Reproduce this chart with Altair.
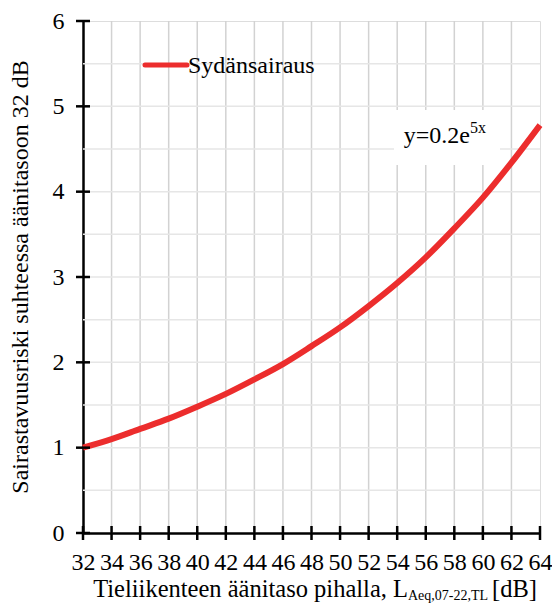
import altair as alt
import pandas as pd

# Data
x_db = [32, 34, 36, 38, 40, 42, 44, 46, 48, 50, 52, 54, 56, 58, 60, 62, 64]
risk = [1.00, 1.10, 1.22, 1.34, 1.48, 1.63, 1.80, 1.98, 2.19, 2.41, 2.66, 2.93, 3.23, 3.57, 3.93, 4.34, 4.78]
x_ticks = list(range(32, 65, 2))
y_ticks = [0, 1, 2, 3, 4, 5, 6]
x_grid = list(range(34, 64, 2))
y_grid = [0.5, 1, 1.5, 2, 2.5, 3, 3.5, 4, 4.5, 5, 5.5]

series_name = "Sydänsairaus"
y_title = "Sairastavuusriski suhteessa äänitasoon 32 dB"
x_title_main = "Tieliikenteen äänitaso pihalla, L"
x_title_sub = "Aeq,07-22,TL"
x_title_end = "[dB]"
eq_main = "y=0.2e"
eq_sup = "5x"

W, H = 457, 512
FONT = "Liberation Serif"
RED = "#ec2d2d"

df = pd.DataFrame({"x": x_db, "y": risk})
xs = alt.Scale(domain=[32, 64], nice=False, zero=False)
ys = alt.Scale(domain=[0, 6], nice=False)

xaxis = alt.Axis(values=x_ticks, ticks=False, grid=False, labelFont=FONT, labelFontSize=24,
                 labelColor="black", labelPadding=17, domainColor="black", domainWidth=2.5,
                 title=None, labelFlush=False, labelOverlap=False, format="d")
yaxis = alt.Axis(values=y_ticks, ticks=False, grid=False, labelFont=FONT, labelFontSize=24,
                 labelColor="black", labelPadding=19, domainColor="black", domainWidth=2.5,
                 title=None, format="d")

vgrid = alt.Chart(pd.DataFrame({"x": x_grid})).mark_rule(color="#d2d2d2", strokeWidth=1.5).encode(
    x=alt.X("x:Q", scale=xs, axis=xaxis))
hgrid = alt.Chart(pd.DataFrame({"y": y_grid})).mark_rule(color="#e6e6e6", strokeWidth=1.5).encode(
    y=alt.Y("y:Q", scale=ys, axis=yaxis))

box = alt.Chart(pd.DataFrame({"a": [0]})).mark_rect(color="white").encode(
    x=alt.value(311), x2=alt.value(417), y=alt.value(89), y2=alt.value(144))

curve = alt.Chart(df).mark_line(color=RED, strokeWidth=6, interpolate="monotone").encode(
    x=alt.X("x:Q", scale=xs, axis=xaxis), y=alt.Y("y:Q", scale=ys, axis=yaxis))

leg_line = alt.Chart(pd.DataFrame({"a": [0]})).mark_rule(color=RED, strokeWidth=5, strokeCap="round").encode(
    x=alt.value(62), x2=alt.value(104), y=alt.value(44))
leg_text = alt.Chart(pd.DataFrame({"t": [series_name]})).mark_text(
    font=FONT, fontSize=24, align="left", baseline="alphabetic", color="black").encode(
    x=alt.value(105), y=alt.value(52), text="t:N")

eq1 = alt.Chart(pd.DataFrame({"t": [eq_main]})).mark_text(
    font=FONT, fontSize=24, align="right", baseline="alphabetic", color="black").encode(
    x=alt.value(387), y=alt.value(122), text="t:N")
eq2 = alt.Chart(pd.DataFrame({"t": [eq_sup]})).mark_text(
    font=FONT, fontSize=16, align="left", baseline="alphabetic", color="black").encode(
    x=alt.value(387), y=alt.value(112), text="t:N")

xt1 = alt.Chart(pd.DataFrame({"t": [x_title_main]})).mark_text(
    font=FONT, fontSize=24.5, align="right", baseline="alphabetic", color="black").encode(
    x=alt.value(325), y=alt.value(576), text="t:N")
xt2 = alt.Chart(pd.DataFrame({"t": [x_title_sub]})).mark_text(
    font=FONT, fontSize=14, align="left", baseline="alphabetic", color="black").encode(
    x=alt.value(325), y=alt.value(579), text="t:N")
xt3 = alt.Chart(pd.DataFrame({"t": [x_title_end]})).mark_text(
    font=FONT, fontSize=24.5, align="left", baseline="alphabetic", color="black").encode(
    x=alt.value(409), y=alt.value(576), text="t:N")

yt = alt.Chart(pd.DataFrame({"t": [y_title]})).mark_text(
    font=FONT, fontSize=24, align="center", baseline="middle", angle=270, color="black").encode(
    x=alt.value(-62), y=alt.value(H / 2), text="t:N")

xtick = alt.Chart(pd.DataFrame({"x": x_ticks})).mark_rule(color="black", strokeWidth=2.5).encode(
    x=alt.X("x:Q", scale=xs, axis=xaxis), y=alt.value(H - 7), y2=alt.value(H + 7))
ytick = alt.Chart(pd.DataFrame({"y": y_ticks})).mark_rule(color="black", strokeWidth=2.5).encode(
    y=alt.Y("y:Q", scale=ys, axis=yaxis), x=alt.value(-7), x2=alt.value(7))

chart = alt.layer(vgrid, hgrid, box, curve, leg_line, leg_text, eq1, eq2,
                  xt1, xt2, xt3, yt, xtick, ytick).properties(
    width=W, height=H,
    autosize=alt.AutoSizeParams(type="none"),
    padding={"left": 75, "top": 13, "right": 12, "bottom": 70},
).configure_view(stroke="black", strokeWidth=2).configure_axisX(
    labelOverlap=False).configure(background="white")

chart.save("out.html", embed_options={"renderer": "svg", "actions": False})
